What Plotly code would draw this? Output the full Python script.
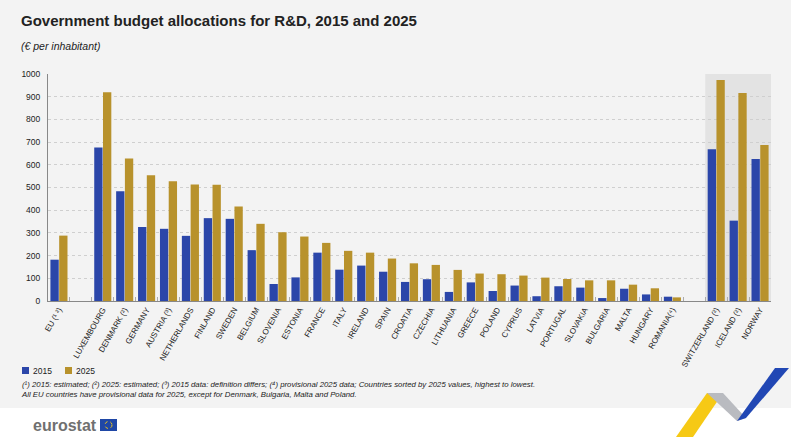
import plotly.graph_objects as go

categories = ["EU (¹ ²)", " ", "LUXEMBOURG", "DENMARK (²)", "GERMANY", "AUSTRIA (³)", "NETHERLANDS",
              "FINLAND", "SWEDEN", "BELGIUM", "SLOVENIA", "ESTONIA", "FRANCE", "ITALY", "IRELAND",
              "SPAIN", "CROATIA", "CZECHIA", "LITHUANIA", "GREECE", "POLAND", "CYPRUS", "LATVIA",
              "PORTUGAL", "SLOVAKIA", "BULGARIA", "MALTA", "HUNGARY", "ROMANIA(⁴)", "  ",
              "SWITZERLAND (²)", "ICELAND (²)", "NORWAY"]
values_2015 = [182, None, 676, 484, 326, 318, 287, 365, 362, 224, 75, 104, 213, 138, 156, 129,
               84, 96, 40, 82, 44, 68, 21, 65, 59, 13, 54, 29, 19, None, 668, 354, 626]
values_2025 = [288, None, 920, 628, 554, 528, 513, 512, 416, 340, 303, 284, 256, 221, 213, 187,
               166, 159, 137, 121, 118, 112, 103, 97, 91, 91, 72, 56, 16, None, 974, 916, 687]
y_ticks = [0, 100, 200, 300, 400, 500, 600, 700, 800, 900, 1000]
series_names = ["2015", "2025"]

W, H = 791, 437
L, R, T, B = 48, 20, 74, 136
PW, PH = W - L - R, H - T - B

def px(x):
    return (x - L) / PW

def py(y):
    return (H - B - y) / PH

FONT = "Liberation Sans, Arial, sans-serif"
BLUE = "#2B46A9"
GOLD = "#B8922C"
BG = "#F3F3F3"
TXT = "#222222"

fig = go.Figure()
fig.add_trace(go.Bar(x=categories, y=values_2015, name=series_names[0], marker_color=BLUE, marker_line_width=0))
fig.add_trace(go.Bar(x=categories, y=values_2025, name=series_names[1], marker_color=GOLD, marker_line_width=0))

shapes = [
    # white bottom strip
    dict(type="rect", xref="paper", yref="paper", x0=px(-5), x1=px(W + 5), y0=py(408), y1=py(H + 5),
         fillcolor="white", line_width=0, layer="below"),
    # non-EU shade
    dict(type="rect", xref="x", yref="y", x0=29.5, x1=32.5, y0=0, y1=1000,
         fillcolor="#E3E3E3", line_width=0, layer="below"),
]

def poly(pts, color):
    d = "M " + " L ".join(f"{px(a):.5f},{py(b):.5f}" for a, b in pts) + " Z"
    return dict(type="path", xref="paper", yref="paper", path=d, fillcolor=color, line_width=0, layer="above")

shapes += [
    poly([(676, 437), (693, 437), (723, 393), (707, 393)], "#F6C915"),
    poly([(707, 393), (723, 393), (746, 418), (737, 421)], "#B9BBC0"),
    poly([(737, 421), (746, 418), (789, 368), (775, 368)], "#2147B4"),
    # EU flag
    dict(type="rect", xref="paper", yref="paper", x0=px(100), x1=px(117), y0=py(419), y1=py(431),
         fillcolor="#1F47A6", line_width=0, layer="above"),
    dict(type="circle", xref="paper", yref="paper", x0=px(105), x1=px(112), y0=py(421.5), y1=py(428.5),
         fillcolor="rgba(0,0,0,0)", line=dict(color="#F6C915", width=1, dash="dot"), layer="above"),
    # legend swatches
    dict(type="rect", xref="paper", yref="paper", x0=px(22), x1=px(29), y0=py(367), y1=py(374),
         fillcolor=BLUE, line_width=0, layer="above"),
    dict(type="rect", xref="paper", yref="paper", x0=px(65), x1=px(72), y0=py(367), y1=py(374),
         fillcolor=GOLD, line_width=0, layer="above"),
]

annotations = [
    dict(text="<b>Government budget allocations for R&D, 2015 and 2025</b>", x=px(19), y=py(21),
         xref="paper", yref="paper", xanchor="left", yanchor="middle", showarrow=False,
         font=dict(family=FONT, size=15, color="#222222")),
    dict(text="<i>(€ per inhabitant)</i>", x=px(19), y=py(46), xref="paper", yref="paper",
         xanchor="left", yanchor="middle", showarrow=False, font=dict(family=FONT, size=10.5, color=TXT)),
    dict(text=series_names[0], x=px(31), y=py(370.5), xref="paper", yref="paper", xanchor="left",
         yanchor="middle", showarrow=False, font=dict(family=FONT, size=8.5, color=TXT)),
    dict(text=series_names[1], x=px(74), y=py(370.5), xref="paper", yref="paper", xanchor="left",
         yanchor="middle", showarrow=False, font=dict(family=FONT, size=8.5, color=TXT)),
    dict(text="<i>(¹) 2015: estimated; (²) 2025: estimated; (³) 2015 data: definition differs; (⁴) provisional 2025 data; "
              "Countries sorted by 2025 values, highest to lowest.<br>All EU countries have provisional data for 2025, "
              "except for Denmark, Bulgaria, Malta and Poland.</i>",
         x=px(19), y=py(389), xref="paper", yref="paper", xanchor="left", yanchor="middle", align="left",
         showarrow=False, font=dict(family=FONT, size=7.8, color=TXT)),
    dict(text="<b>eurostat</b>", x=px(31), y=py(425), xref="paper", yref="paper", xanchor="left",
         yanchor="middle", showarrow=False, font=dict(family=FONT, size=16, color="#707070")),
]

fig.update_layout(
    width=W, height=H,
    margin=dict(l=L, r=R, t=T, b=B, autoexpand=False),
    paper_bgcolor=BG, plot_bgcolor="rgba(0,0,0,0)",
    barmode="group", bargap=0.2, bargroupgap=0.05,
    font=dict(family=FONT, size=9, color=TXT),
    showlegend=False,
    shapes=shapes, annotations=annotations,
)
fig.update_xaxes(
    type="category", categoryorder="array", categoryarray=categories,
    tickangle=-60, tickfont=dict(family=FONT, size=8, color=TXT),
    ticks="inside", tickson="boundaries", ticklen=4, tickcolor="#AAAAAA",
    showline=True, linecolor="#888888", linewidth=1, showgrid=False,
    range=[-0.5, 32.5],
)
fig.update_yaxes(
    range=[0, 1000], tickvals=y_ticks, ticktext=[str(v) for v in y_ticks],
    showgrid=True, gridcolor="#CFCFCF", griddash="dot", gridwidth=1,
    showline=True, linecolor="#888888", linewidth=1, zeroline=False,
    tickfont=dict(family=FONT, size=8.5, color=TXT), ticks="", ticklabelstandoff=5,
)

fig.write_html("out.html", config={"displayModeBar": False},
               post_script="document.body.style.margin='0';document.body.style.background='#F3F3F3';")
